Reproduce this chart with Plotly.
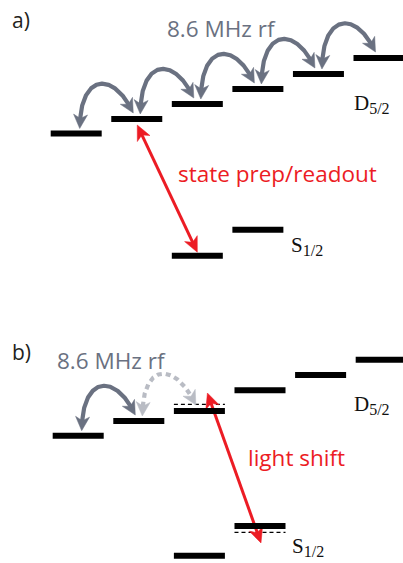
import numpy as np
import plotly.graph_objects as go
from plotly.subplots import make_subplots

# ---------------- data ----------------
# Zeeman sublevels (magnetic quantum number m) and energies (arb. units)
m_D = [-2.5, -1.5, -0.5, 0.5, 1.5, 2.5]
m_S = [-0.5, 0.5]

# panel a)
E_D_a = [146.5, 161, 176, 191, 206, 222]
E_S_a = [24.3, 50.3]

# panel b) (light-shifted levels and their unshifted positions)
E_D_b = [127.3, 142, 152, 172.7, 188, 203.3]
E_D_b_unshifted = [None, None, 158.7, None, None, None]
E_S_b = [7.3, 37]
E_S_b_unshifted = [None, 30.7]

# transitions: rf couplings between D sublevels (pairs of indices)
rf_pairs_a = [(0, 1), (1, 2), (2, 3), (3, 4), (4, 5)]
rf_pairs_b_solid = [(0, 1)]
rf_pairs_b_dashed = [(1, 2)]

# laser arrows: (D index, S index)
laser_a = (1, 0)
laser_b = (2, 1)

labels = {
    "a": "a)", "b": "b)",
    "rf": "8.6 MHz rf",
    "prep": "state prep/readout",
    "shift": "light shift",
    "D": "D<sub><span style='font-size:16px'>5/2</span></sub>",
    "S": "S<sub><span style='font-size:16px'>1/2</span></sub>",
}

# ---------------- layout geometry ----------------
W, H = 403, 563
SPLIT = 280  # pixel row separating the panels
GRAY = "#6a7181"
LGRAY = "#b9bcc4"
RED = "#ec1c24"
BAR_HALF = 0.421   # half width of a level bar, m units
BAR_TH = 6          # bar thickness, energy units (1 unit = 1 px)

panels = {
    "a": dict(row=1, x0=227.6, sx=60.56, ytop=0, ybot=SPLIT),
    "b": dict(row=2, x0=229.7, sx=60.6, ytop=SPLIT, ybot=H),
}

fig = make_subplots(rows=2, cols=1, vertical_spacing=0)

for key, p in panels.items():
    r = p["row"]
    xr = [(0 - p["x0"]) / p["sx"], (W - p["x0"]) / p["sx"]]
    yr = [0, p["ybot"] - p["ytop"]]
    fig.update_xaxes(range=xr, visible=False, row=r, col=1)
    fig.update_yaxes(range=yr, visible=False, row=r, col=1)

fig.update_layout(
    yaxis=dict(domain=[1 - SPLIT / H, 1]),
    yaxis2=dict(domain=[0, 1 - SPLIT / H]),
    xaxis=dict(domain=[0, 1]), xaxis2=dict(domain=[0, 1]),
)


def to_px(key, m, E):
    p = panels[key]
    return np.array([m * p["sx"], E])  # local pixel-like frame (y up)


def from_px(key, P):
    p = panels[key]
    return P[0] / p["sx"], P[1]


def refs(key):
    r = panels[key]["row"]
    return ("x", "y") if r == 1 else ("x2", "y2")


def add_bar(key, m, E):
    xr, yr = refs(key)
    fig.add_shape(type="rect", xref=xr, yref=yr,
                  x0=m - BAR_HALF, x1=m + BAR_HALF,
                  y0=E - BAR_TH / 2, y1=E + BAR_TH / 2,
                  fillcolor="black", line_width=0, layer="above")


def add_dashed(key, m, E):
    row = panels[key]["row"]
    fig.add_trace(go.Scatter(x=[m - BAR_HALF, m + BAR_HALF], y=[E, E], mode="lines",
                             line=dict(color="black", width=1.3, dash="4px,3px"),
                             hoverinfo="skip", showlegend=False), row=row, col=1)


def head(key, tip, u, color, L=14, Wd=7, notch=4):
    n = np.array([-u[1], u[0]])
    back = tip - L * u
    pts = [tip, back + Wd * n, tip - (L - notch) * u, back - Wd * n, tip]
    xs, ys = zip(*[from_px(key, q) for q in pts])
    row = panels[key]["row"]
    fig.add_trace(go.Scatter(x=list(xs), y=list(ys), mode="lines", fill="toself",
                             fillcolor=color, line=dict(color=color, width=0.5),
                             hoverinfo="skip", showlegend=False), row=row, col=1)


def bezier(P, t):
    P0, P1, P2, P3 = P
    t = t[:, None]
    return ((1 - t) ** 3) * P0 + 3 * (1 - t) ** 2 * t * P1 + 3 * (1 - t) * t ** 2 * P2 + t ** 3 * P3


def add_arc(key, E_list, i, j, color, dash=None):
    # double-headed curved arrow between adjacent sublevels i (left) and j (right)
    a = to_px(key, m_D[i], E_list[i]) + np.array([3.5, BAR_TH / 2 + 2])
    b = to_px(key, m_D[j], E_list[j]) + np.array([-3.5, BAR_TH / 2 + 3])
    P = [a, a + np.array([0, 55]), b + np.array([-20, 43]), b]
    t = np.linspace(0, 1, 200)
    pts = bezier(P, t)
    L = 14
    da = np.linalg.norm(pts - a, axis=1)
    db = np.linalg.norm(pts - b, axis=1)
    keep = (da > L - 5) & (db > L - 5)
    seg = pts[keep]
    xs = seg[:, 0] / panels[key]["sx"]
    row = panels[key]["row"]
    fig.add_trace(go.Scatter(x=xs, y=seg[:, 1], mode="lines",
                             line=dict(color=color, width=4.2, dash=dash or "solid"),
                             hoverinfo="skip", showlegend=False), row=row, col=1)
    ka = np.argmax(da > L)
    ua = a - pts[ka]
    ua = ua / np.linalg.norm(ua)
    kb = len(pts) - 1 - np.argmax((db > L)[::-1])
    ub = b - pts[kb]
    ub = ub / np.linalg.norm(ub)
    head(key, a, ua, color)
    head(key, b, ub, color)


def add_laser(key, p_top, p_bot):
    u = p_bot - p_top
    u = u / np.linalg.norm(u)
    L = 15
    s0 = p_top + (L - 5) * u
    s1 = p_bot - (L - 5) * u
    row = panels[key]["row"]
    x0, y0 = from_px(key, s0)
    x1, y1 = from_px(key, s1)
    fig.add_trace(go.Scatter(x=[x0, x1], y=[y0, y1], mode="lines",
                             line=dict(color=RED, width=3),
                             hoverinfo="skip", showlegend=False), row=row, col=1)
    head(key, p_top, -u, RED, L=L, Wd=7, notch=4)
    head(key, p_bot, u, RED, L=L, Wd=7, notch=4)


# ---------------- panel a ----------------
for m, E in zip(m_D, E_D_a):
    add_bar("a", m, E)
for m, E in zip(m_S, E_S_a):
    add_bar("a", m, E)
for i, j in rf_pairs_a:
    add_arc("a", E_D_a, i, j, GRAY)
dI, sI = laser_a
top = to_px("a", m_D[dI], E_D_a[dI]) + np.array([0.5, -6])
bot = to_px("a", m_S[sI], E_S_a[sI]) + np.array([0, BAR_TH / 2 + 0.5])
add_laser("a", top, bot)

# ---------------- panel b ----------------
for m, E in zip(m_D, E_D_b):
    add_bar("b", m, E)
for m, E in zip(m_D, E_D_b_unshifted):
    if E is not None:
        add_dashed("b", m, E)
for m, E in zip(m_S, E_S_b):
    add_bar("b", m, E)
for m, E in zip(m_S, E_S_b_unshifted):
    if E is not None:
        add_dashed("b", m, E)
for i, j in rf_pairs_b_solid:
    add_arc("b", E_D_b, i, j, GRAY)
for i, j in rf_pairs_b_dashed:
    add_arc("b", E_D_b, i, j, LGRAY, dash="5px,4px")
dI, sI = laser_b
top = to_px("b", m_D[dI], E_D_b[dI]) + np.array([8, 18])
bot = to_px("b", m_S[sI], E_S_b[sI]) + np.array([1, -17])
add_laser("b", top, bot)

# ---------------- text ----------------
SANS = "Open Sans, Noto Sans, sans-serif"
SERIF = "Liberation Serif, DejaVu Serif, serif"


def txt(x, y, s, size, color, family=SANS, anchor="left"):
    fig.add_annotation(x=x / W, y=1 - y / H, xref="paper", yref="paper", text=s,
                       showarrow=False, xanchor=anchor, yanchor="middle",
                       font=dict(size=size, color=color, family=family))


txt(10, 20, labels["a"], 21, "#231f20")
txt(165, 29, labels["rf"], 22.5, GRAY)
txt(176, 173, labels["prep"], 22.5, RED)
txt(352, 104, labels["D"], 21, "#111", SERIF)
txt(289, 246, labels["S"], 21, "#111", SERIF)

txt(10, 352, labels["b"], 21, "#231f20")
txt(55, 360, labels["rf"], 22.5, GRAY)
txt(246, 457, labels["shift"], 22.5, RED)
txt(352, 405, labels["D"], 21, "#111", SERIF)
txt(290, 547, labels["S"], 21, "#111", SERIF)

fig.update_layout(width=W, height=H, margin=dict(l=0, r=0, t=0, b=0),
                  paper_bgcolor="white", plot_bgcolor="white", showlegend=False)

fig.write_html("out.html", config={"displayModeBar": False},
               post_script="document.body.style.margin='0';")
